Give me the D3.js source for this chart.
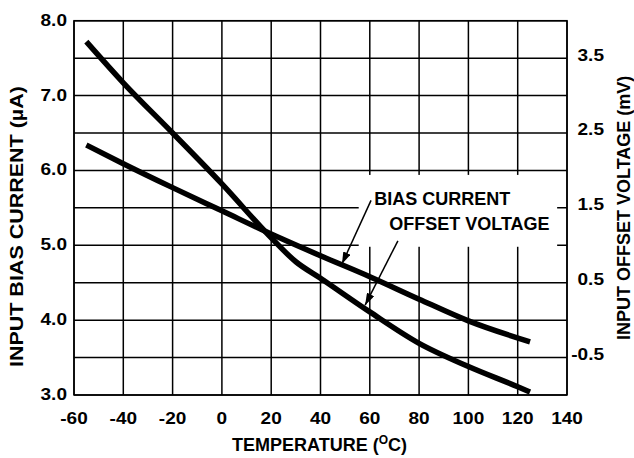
<!DOCTYPE html>
<html>
<head>
<meta charset="utf-8">
<script src="https://cdn.jsdelivr.net/npm/d3@7"></script>
<style>
  body { margin: 0; background: #fff; }
  text { font-family: "Liberation Sans", Arial, Helvetica, sans-serif; font-weight: bold; fill: #000; }
</style>
</head>
<body>
<svg id="chart" width="634" height="458"></svg>
<script>
// data
var tempTicks = [-60, -40, -20, 0, 20, 40, 60, 80, 100, 120, 140];
var biasTicks = [3.0, 4.0, 5.0, 6.0, 7.0, 8.0];
var offsetTicks = [-0.5, 0.5, 1.5, 2.5, 3.5];

// input bias current (uA), left axis
var biasTemp = [-55, -40, -20, 0, 20, 40, 60, 80, 100, 125];
var biasCurrent = [6.34, 6.09, 5.77, 5.46, 5.15, 4.86, 4.58, 4.28, 3.99, 3.71];

// input offset voltage (mV), right axis
var offsetTemp = [-55, -40, -20, 0, 20, 30, 40, 60, 80, 100, 120, 125];
var offsetVoltage = [3.72, 3.17, 2.50, 1.82, 1.10, 0.78, 0.56, 0.11, -0.31, -0.62, -0.89, -0.96];

var svg = d3.select("#chart"),
    margin = {top: 20.7, right: 67, bottom: 63, left: 74},
    width = +svg.attr("width") - margin.left - margin.right,
    height = +svg.attr("height") - margin.top - margin.bottom;

var x = d3.scaleLinear().domain([-60, 140]).range([0, width]);
var yL = d3.scaleLinear().domain([3, 8]).range([height, 0]);
var yR = d3.scaleLinear().domain([-1, 4]).range([height, 0]);

var g = svg.append("g").attr("transform", "translate(" + margin.left + "," + margin.top + ")");

// grid
var gridX = d3.range(-60, 141, 20);
var gridY = d3.range(3, 8.01, 0.5);
g.append("g").selectAll("line").data(gridX).enter().append("line")
  .attr("x1", d => x(d)).attr("x2", d => x(d))
  .attr("y1", 0).attr("y2", height)
  .attr("stroke", "#000").attr("stroke-width", 1.5);
g.append("g").selectAll("line").data(gridY).enter().append("line")
  .attr("x1", 0).attr("x2", width)
  .attr("y1", d => yL(d)).attr("y2", d => yL(d))
  .attr("stroke", "#000").attr("stroke-width", 1.5);

// white box behind the labels
g.append("rect")
  .attr("x", x(55.5)).attr("y", yL(5.94))
  .attr("width", x(136) - x(55.5)).attr("height", yL(4.98) - yL(5.94))
  .attr("fill", "#fff");

// frame
g.append("rect").attr("x", 0).attr("y", 0).attr("width", width).attr("height", height)
  .attr("fill", "none").attr("stroke", "#000").attr("stroke-width", 1.5);

// curves
var biasLine = d3.line().x((d, i) => x(biasTemp[i])).y(d => yL(d)).curve(d3.curveMonotoneX);
var offsetLine = d3.line().x((d, i) => x(offsetTemp[i])).y(d => yR(d)).curve(d3.curveMonotoneX);

g.append("path").datum(biasCurrent).attr("d", biasLine)
  .attr("fill", "none").attr("stroke", "#000").attr("stroke-width", 5.5);
g.append("path").datum(offsetVoltage).attr("d", offsetLine)
  .attr("fill", "none").attr("stroke", "#000").attr("stroke-width", 5.5);

// tick labels (the original type is a little wider than Arial bold)
var stretch = " scale(1.12,1)";
g.append("g").selectAll("text").data(tempTicks).enter().append("text")
  .attr("transform", d => "translate(" + x(d) + "," + (height + 29) + ")" + stretch)
  .attr("text-anchor", "middle").style("font-size", "17px")
  .text(d => d);
g.append("g").selectAll("text").data(biasTicks).enter().append("text")
  .attr("transform", d => "translate(-7," + (yL(d) + 5) + ")" + stretch)
  .attr("text-anchor", "end").style("font-size", "17px")
  .text(d => d.toFixed(1));
g.append("g").selectAll("text").data(offsetTicks).enter().append("text")
  .attr("transform", d => "translate(" + (width + 37) + "," + (yR(d) + 2.5) + ")" + stretch)
  .attr("text-anchor", "end").style("font-size", "17px")
  .text(d => d.toFixed(1));

// axis titles
var xt = g.append("text").attr("x", width / 2 - 1).attr("y", height + 56)
  .attr("text-anchor", "middle").style("font-size", "18px");
xt.append("tspan").text("TEMPERATURE (");
xt.append("tspan").attr("dy", -7).style("font-size", "12px").text("O");
xt.append("tspan").attr("dy", 7).text("C)");

g.append("text")
  .attr("transform", "translate(" + (-51) + "," + (yL(5.25)) + ") rotate(-90)")
  .attr("text-anchor", "middle").style("font-size", "19px")
  .attr("textLength", 281).attr("lengthAdjust", "spacingAndGlyphs")
  .text("INPUT BIAS CURRENT (\u00b5A)");
g.append("text")
  .attr("transform", "translate(" + (width + 63) + "," + (yL(5.5)) + ") rotate(-90)")
  .attr("text-anchor", "middle").style("font-size", "18px")
  .text("INPUT OFFSET VOLTAGE (mV)");

// annotations
g.append("text").attr("x", x(61.8)).attr("y", yL(5.54))
  .style("font-size", "18px").text("BIAS CURRENT");
g.append("text").attr("x", x(67.9)).attr("y", yL(5.2))
  .style("font-size", "18px").text("OFFSET VOLTAGE");

svg.append("defs").append("marker")
  .attr("id", "arrow").attr("viewBox", "0 0 12 8")
  .attr("refX", 12).attr("refY", 4)
  .attr("markerWidth", 12).attr("markerHeight", 8)
  .attr("markerUnits", "userSpaceOnUse")
  .attr("orient", "auto")
  .append("path").attr("d", "M0,0 L12,4 L0,8 Z").attr("fill", "#000");

// arrow endpoints: [tempFrom, valueFrom, tempTo, valueTo] in left axis units
var arrows = [[60.5, 5.6, 48.7, 4.75], [71.4, 5.06, 58.1, 4.2]];
g.append("g").selectAll("line").data(arrows).enter().append("line")
  .attr("x1", d => x(d[0])).attr("y1", d => yL(d[1]))
  .attr("x2", d => x(d[2])).attr("y2", d => yL(d[3]))
  .attr("stroke", "#000").attr("stroke-width", 1.5)
  .attr("marker-end", "url(#arrow)");
</script>
</body>
</html>
